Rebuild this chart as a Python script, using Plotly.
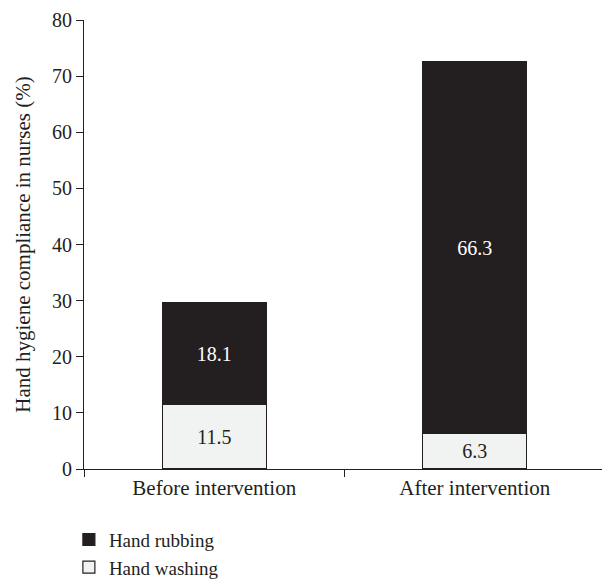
import plotly.graph_objects as go

categories = ["Before intervention", "After intervention"]
hand_washing = [11.5, 6.3]
hand_rubbing = [18.1, 66.3]
y_ticks = [0, 10, 20, 30, 40, 50, 60, 70, 80]

FONT = "Liberation Serif"
DARK = "#231f20"
LIGHT = "#f1f2f2"

fig = go.Figure()
fig.add_trace(go.Bar(
    x=categories, y=hand_washing, name="Hand washing",
    marker=dict(color=LIGHT, line=dict(color=DARK, width=1.2)),
    text=[f"{v:.1f}" for v in hand_washing], textposition="inside",
    insidetextanchor="middle", textfont=dict(color=DARK, size=20, family=FONT),
    width=0.4,
))
fig.add_trace(go.Bar(
    x=categories, y=hand_rubbing, name="Hand rubbing",
    marker=dict(color=DARK, line=dict(color=DARK, width=1.2)),
    text=[f"{v:.1f}" for v in hand_rubbing], textposition="inside",
    insidetextanchor="middle", textfont=dict(color="white", size=20, family=FONT),
    width=0.4,
))

fig.update_layout(
    barmode="stack",
    width=602, height=572,
    margin=dict(l=76, r=5, t=12, b=111, autoexpand=False),
    paper_bgcolor="white", plot_bgcolor="white",
    font=dict(family=FONT, size=20, color=DARK),
    uniformtext=dict(mode="show", minsize=10),
    showlegend=True,
    legend=dict(
        orientation="v", traceorder="reversed",
        x=-0.029, xanchor="left", y=-0.115, yanchor="top",
        font=dict(size=19, family=FONT, color=DARK),
        itemwidth=30, tracegroupgap=0,
        bgcolor="rgba(0,0,0,0)",
    ),
    xaxis=dict(
        showline=True, linecolor=DARK, linewidth=1.2,
        ticks="outside", tickson="boundaries", ticklen=7, tickcolor=DARK,
        tickfont=dict(size=21, family=FONT, color=DARK),
        showgrid=False, zeroline=False, automargin=False,
    ),
    yaxis=dict(
        range=[0, 80], tickvals=y_ticks,
        showline=True, linecolor=DARK, linewidth=1.2,
        ticks="outside", ticklen=7, tickcolor=DARK,
        tickfont=dict(size=20, family=FONT, color=DARK),
        showgrid=False, zeroline=False, automargin=False,
        title=dict(text="Hand hygiene compliance in nurses (%)", font=dict(size=21, family=FONT, color=DARK), standoff=15),
    ),
)

fig.write_html("out.html")
